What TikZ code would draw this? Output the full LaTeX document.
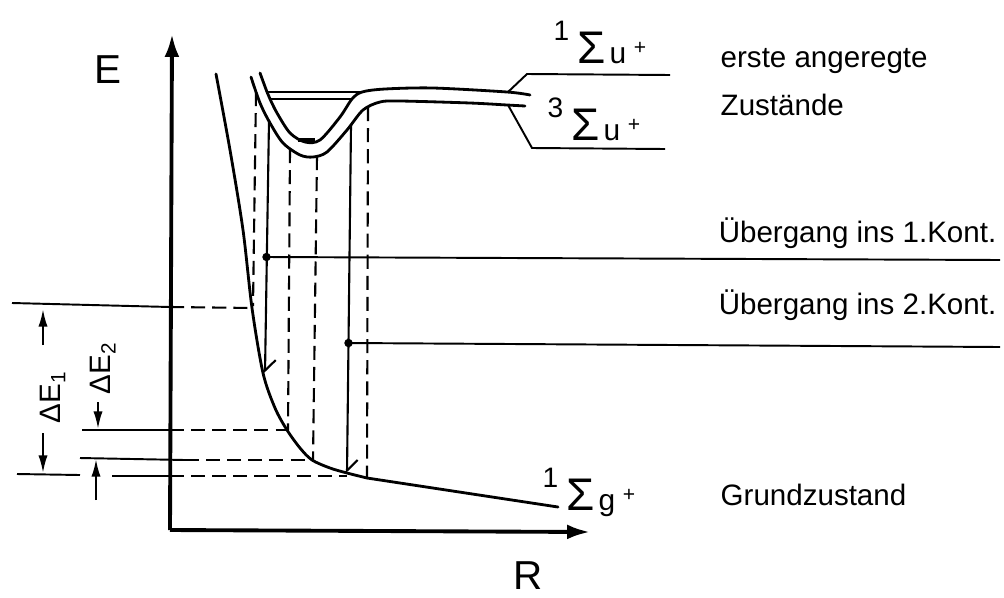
\documentclass[tikz,border=0pt]{standalone}
\usepackage{fontspec}
\setmainfont{Liberation Sans}
\usetikzlibrary{arrows.meta}

% term symbol: multiplicity, Sigma, parity, plus
\newcommand{\termsym}[2]{%
  \raisebox{6.5pt}{\fontsize{8}{8}\selectfont #1}\hspace{2.2pt}%
  {\fontsize{13}{13}\selectfont Σ}\hspace{1.2pt}%
  {\fontsize{8.5}{8.5}\selectfont #2}\hspace{2.2pt}%
  \raisebox{2.4pt}{\fontsize{6}{6}\selectfont +}}

\begin{document}
\begin{tikzpicture}[
    x=0.01cm, y=-0.01cm,
    curve/.style={line width=0.8pt, line join=round, line cap=round},
    axis/.style={line width=1.1pt, -{Latex[length=6.5pt, width=4.2pt]}},
    solidln/.style={line width=0.55pt},
    dashln/.style={line width=0.6pt, dash pattern=on 4pt off 2pt},
    halfarr/.style={line width=0.6pt, -{Straight Barb[left, length=3pt, width=6pt]}},
    dimarr/.style={line width=0.6pt, -{Latex[length=5pt, width=2.6pt]}},
    lbl/.style={font=\fontsize{8.4}{10}\selectfont, inner sep=0pt},
    biglbl/.style={font=\fontsize{11.5}{12}\selectfont, inner sep=0pt},
    dot/.style={fill, circle, inner sep=0pt, minimum size=2.4pt}
]
\useasboundingbox (0,0) rectangle (1004,597);

% axes
\coordinate (O) at (170,530);
\draw[axis] (O) -- (172,34);
\draw[axis] (O) -- (590,532);
\node[biglbl, anchor=base] (E) at (108,83) {E};
\node[biglbl, anchor=base] (R) at (528,589) {R};

% ground state
\draw[curve] plot[smooth] coordinates {(216,74) (230,150) (243,230) (252,308)
  (263,373) (275,408) (287,430) (300,448) (312,460) (330,468) (347,473) (367,478)}
  -- (558,507);

% excited states (outer and inner)
\draw[curve] plot[smooth] coordinates {(251,77) (260,103) (270,123) (283,143)
  (300,155) (313,157) (327,152) (347,130) (363,110) (380,102) (400,101)
  (470,103) (507,105) (525,106)};
\draw[curve] plot[smooth] coordinates {(260,73) (267,92) (270,99) (277,113)
  (290,133) (305,142) (320,140) (340,117) (352,99) (362,92) (385,89)
  (433,88) (507,92) (530,95)};

% vibrational levels
\draw[solidln] (267,92) -- (362,92);
\draw[solidln] (270,99) -- (352,99);
\draw[line width=1.4pt] (298,140) -- (315,140);

% labels of the excited states
\draw[solidln] (508,92) -- (527,74) -- (670,75);
\draw[solidln] (508,105) -- (532,148) -- (665,149);
\node[anchor=base west, inner sep=0pt] (su1) at (553,63) {\termsym{1}{u}};
\node[anchor=base west, inner sep=0pt] (su3) at (547,140) {\termsym{3}{u}};
\node[anchor=base west, inner sep=0pt] (sg1) at (542,510) {\termsym{1}{g}};
\node[lbl, anchor=base west] (erste) at (720,67) {erste angeregte};
\node[lbl, anchor=base west] (zust) at (720,115) {Zustände};
\node[lbl, anchor=base west] (grund) at (720,505) {Grundzustand};

% transitions
\coordinate (t1) at (266.5,257);
\coordinate (t2) at (348.5,343);
\draw[halfarr] (269,120) -- (265,373);
\draw[halfarr] (351,125) -- (347,473);
\node[dot] at (t1) {};
\node[dot] at (t2) {};
\draw[solidln] (t1) -- (1000,260);
\draw[solidln] (t2) -- (1000,347);
\node[lbl, anchor=base east] (kont1) at (997,242) {Übergang ins 1.Kont.};
\node[lbl, anchor=base east] (kont2) at (997,314) {Übergang ins 2.Kont.};

% dashed verticals
\draw[dashln] (256,92) -- (253,306);
\draw[dashln] (290,149) -- (288,430);
\draw[dashln] (317,156) -- (313,460);
\draw[dashln] (368,107) -- (367,478);

% levels on the left
\draw[solidln] (12,303) -- (170,307);
\draw[dashln] (170,307) -- (252,308);
\draw[solidln] (82,430) -- (170,430);
\draw[dashln] (170,430) -- (287,430);
\draw[solidln] (80,458) -- (185,460);
\draw[dashln] (185,460) -- (312,460);
\draw[solidln] (17,474) -- (80,475);
\draw[solidln] (112,476) -- (170,476);
\draw[dashln] (170,476) -- (347,476);

% Delta E
\draw[dimarr] (43,345) -- (43,309);
\draw[dimarr] (43,433) -- (43,473);
\node[lbl, rotate=90] (dE1) at (53,397) {ΔE\textsubscript{1}};
\draw[dimarr] (98,402) -- (98,429);
\draw[dimarr] (96,500) -- (96,459);
\node[lbl, rotate=90] (dE2) at (103,368) {ΔE\textsubscript{2}};
\end{tikzpicture}
\end{document}
